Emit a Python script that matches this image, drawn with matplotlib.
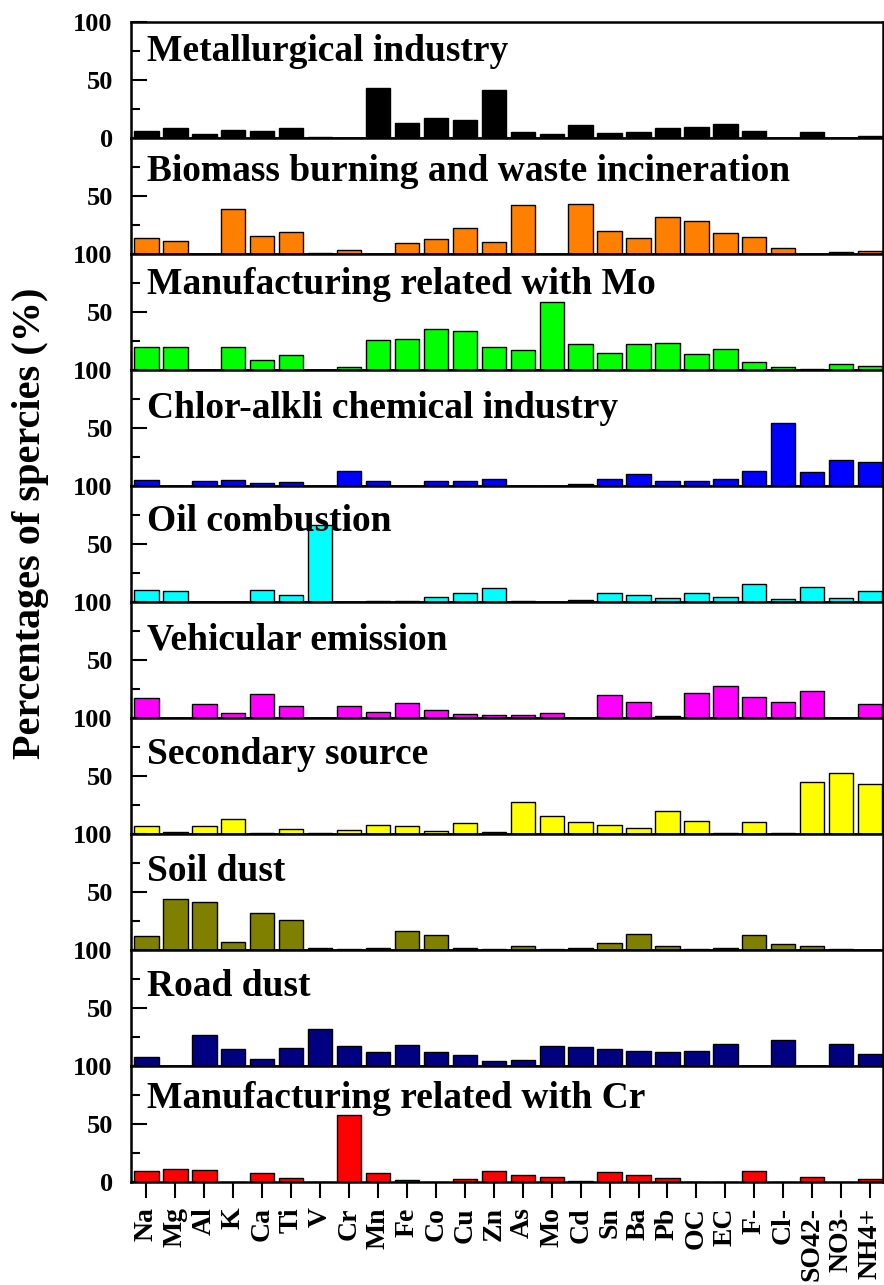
import numpy as np
import matplotlib
matplotlib.use("Agg")
import matplotlib.pyplot as plt
from matplotlib.ticker import FixedLocator, FixedFormatter

plt.rcParams['font.family'] = ['Liberation Serif', 'DejaVu Serif']
plt.rcParams['font.weight'] = 'bold'

species = ["Na", "Mg", "Al", "K", "Ca", "Ti", "V", "Cr", "Mn", "Fe", "Co", "Cu", "Zn",
           "As", "Mo", "Cd", "Sn", "Ba", "Pb", "OC", "EC", "F-", "Cl-", "SO42-", "NO3-", "NH4+"]

# source profiles (% of species)
metallurgical = [5.8, 8.1, 2.9, 6.4, 5.5, 8.7, 0.6, 0.2, 42.9, 12.8, 17.1, 15.1, 40.9,
                 5.2, 3.5, 11.3, 3.8, 4.9, 8.4, 9.3, 11.6, 5.8, 0.0, 4.6, 0.0, 1.2]
biomass = [13.4, 11.1, 0.0, 38.9, 15.1, 18.9, 0.6, 2.9, 0.0, 9.1, 12.6, 22.0, 10.0,
           41.7, 0.0, 42.9, 19.4, 13.4, 31.4, 28.0, 17.7, 14.9, 5.1, 0.0, 1.4, 2.3]
manuf_mo = [19.5, 19.8, 0.0, 20.0, 8.2, 12.7, 0.0, 2.3, 25.7, 26.3, 35.0, 33.0, 19.5,
            17.0, 58.5, 22.3, 14.1, 22.3, 22.9, 13.6, 18.1, 6.8, 2.5, 0.6, 4.8, 3.4]
chlor_alkli = [4.8, 0.0, 4.0, 4.8, 2.0, 2.8, 0.0, 12.5, 4.0, 0.0, 3.7, 4.0, 6.2,
               0.0, 0.0, 1.1, 5.7, 9.7, 4.0, 4.0, 5.7, 12.5, 54.5, 11.6, 22.4, 20.2]
oil = [10.2, 8.8, 0.0, 0.0, 10.5, 5.9, 66.0, 0.0, 0.6, 0.8, 4.2, 7.3, 11.6,
       0.8, 0.0, 1.4, 7.9, 5.9, 3.1, 7.9, 4.0, 15.5, 2.5, 12.4, 3.1, 9.0]
vehicular = [16.8, 0.0, 12.2, 3.7, 20.2, 9.7, 0.0, 9.7, 4.5, 12.8, 6.8, 3.1, 2.6,
             2.0, 3.7, 0.0, 19.3, 13.4, 1.1, 21.0, 27.0, 18.2, 13.1, 22.7, 0.0, 12.2]
secondary = [6.8, 1.1, 6.5, 12.8, 0.3, 4.0, 0.6, 2.8, 7.1, 6.5, 2.0, 9.1, 1.1,
             27.3, 14.8, 9.9, 7.4, 4.5, 19.3, 10.8, 0.6, 9.7, 0.6, 44.3, 52.0, 42.9]
soil = [11.5, 43.7, 41.1, 6.6, 31.6, 25.3, 1.7, 0.6, 1.4, 16.4, 12.4, 1.7, 0.6,
        2.9, 0.6, 1.7, 6.0, 13.8, 3.2, 0.6, 1.4, 12.6, 4.9, 2.9, 0.9, 0.0]
road = [7.7, 0.0, 26.1, 14.5, 5.4, 15.1, 31.8, 17.0, 11.4, 17.6, 11.9, 8.8, 3.7,
        4.8, 17.0, 15.9, 14.2, 12.5, 11.4, 12.5, 19.0, 0.0, 21.9, 0.0, 18.5, 9.7]
manuf_cr = [9.0, 11.0, 9.6, 0.0, 7.3, 2.9, 0.0, 57.8, 7.0, 1.7, 0.0, 2.0, 9.3,
            5.5, 3.8, 0.3, 8.4, 5.5, 2.9, 0.0, 0.0, 9.0, 0.0, 3.8, 0.0, 2.0]

sources = ["Metallurgical industry", "Biomass burning and waste incineration",
           "Manufacturing related with Mo", "Chlor-alkli chemical industry",
           "Oil combustion", "Vehicular emission", "Secondary source", "Soil dust",
           "Road dust", "Manufacturing related with Cr"]
profiles = [metallurgical, biomass, manuf_mo, chlor_alkli, oil, vehicular,
            secondary, soil, road, manuf_cr]
colors = ["#000000", "#FF8000", "#00FF00", "#0000FF", "#00FFFF", "#FF00FF",
          "#FFFF00", "#808000", "#000080", "#FF0000"]
title_y = [66, 63, 65, 58, 61, 59, 60, 59, 60, 63]

fig, axes = plt.subplots(len(sources), 1, figsize=(8.84, 12.85), dpi=100, sharex=True)
fig.subplots_adjust(left=0.148, right=0.999, top=0.983, bottom=0.0805, hspace=0)

x = np.arange(len(species))
n = len(axes)
for i, ax in enumerate(axes):
    ax.bar(x, profiles[i], width=0.84, color=colors[i], edgecolor="black", linewidth=1.0, zorder=2)
    ax.set_xlim(-0.54, 25.45)
    ax.set_ylim(0, 100)
    ax.text(0.022, title_y[i], sources[i], transform=ax.get_yaxis_transform(),
            fontsize=27, fontweight="bold", va="baseline", ha="left", zorder=3)

    # tick labels at panel joins: only one label shown per boundary
    if i == 0 or i == n - 1:
        ticks = [0, 50, 100]
    elif i == 1:
        ticks = [50]
    else:
        ticks = [50, 100]
    ax.yaxis.set_major_locator(FixedLocator([0, 50, 100]))
    ax.yaxis.set_major_formatter(FixedFormatter([str(t) if t in ticks else "" for t in [0, 50, 100]]))
    ax.yaxis.set_minor_locator(FixedLocator([25, 75]))
    ax.tick_params(axis="y", which="major", direction="in", length=11.5, width=1.5,
                   labelsize=19, pad=13)
    ax.tick_params(axis="y", which="minor", direction="in", length=6.5, width=1.5)
    ax.tick_params(axis="x", which="major", direction="out", length=11.5, width=1.5,
                   labelsize=20, pad=7)
    for s in ax.spines.values():
        s.set_linewidth(1.8)
    ax.set_xticks(x)

axes[-1].set_xticklabels(species, rotation=90, fontweight="bold")

fig.text(0.034, 0.593, "Percentages of spercies (%)", rotation=90, fontsize=29,
         fontweight="bold", ha="center", va="center")

fig.savefig("out.png", dpi=100)
